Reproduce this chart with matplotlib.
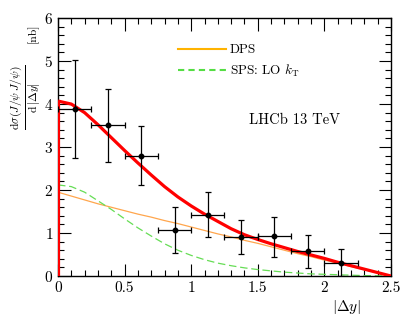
import numpy as np
import matplotlib
matplotlib.use('Agg')
import matplotlib.pyplot as plt
from matplotlib.ticker import MultipleLocator

plt.rcParams['font.family'] = 'serif'
plt.rcParams['font.serif'] = ['cmr10']
plt.rcParams['mathtext.fontset'] = 'cm'
plt.rcParams['axes.formatter.use_mathtext'] = True

# measured points (LHCb 13 TeV)
x_pts = [0.125, 0.375, 0.625, 0.875, 1.125, 1.375, 1.625, 1.875, 2.125]
y_pts = [3.88, 3.51, 2.79, 1.07, 1.43, 0.91, 0.93, 0.58, 0.30]
y_up = [5.02, 4.35, 3.49, 1.60, 1.95, 1.30, 1.37, 0.95, 0.63]
y_dn = [2.74, 2.65, 2.12, 0.53, 0.91, 0.51, 0.44, 0.19, 0.00]
x_halfwidth = [0.125] * 9

# model curves, every 0.1 in |dy|
x_grid = [0.0, 0.1, 0.2, 0.3, 0.4, 0.5, 0.6, 0.7, 0.8, 0.9, 1.0, 1.1, 1.2,
          1.3, 1.4, 1.5, 1.6, 1.7, 1.8, 1.9, 2.0, 2.1, 2.2, 2.3, 2.4, 2.5]
dps = [1.95, 1.86, 1.77, 1.68, 1.60, 1.52, 1.44, 1.37, 1.29, 1.22, 1.14, 1.06, 0.98,
       0.91, 0.83, 0.76, 0.68, 0.60, 0.52, 0.45, 0.37, 0.30, 0.22, 0.15, 0.07, 0.0]
sps = [2.12, 2.08, 1.95, 1.75, 1.55, 1.33, 1.12, 0.93, 0.75, 0.60, 0.48, 0.38, 0.30,
       0.24, 0.19, 0.15, 0.12, 0.09, 0.07, 0.05, 0.04, 0.03, 0.02, 0.01, 0.005, 0.0]
total = [4.07, 4.00, 3.80, 3.52, 3.22, 2.92, 2.63, 2.35, 2.08, 1.84, 1.63, 1.44, 1.27,
         1.10, 0.96, 0.85, 0.75, 0.66, 0.57, 0.49, 0.41, 0.32, 0.24, 0.16, 0.08, 0.0]

fig = plt.figure(figsize=(4.12, 3.29), dpi=100)
ax = fig.add_axes([0.1408, 0.161, 0.8082, 0.784])

ax.plot(x_grid, dps, color='#ffa64d', lw=0.9, zorder=2)
ax.plot(x_grid, sps, color='#66dd55', lw=0.9, dashes=(6, 3), zorder=2)
# legend handles
ax.plot([], [], color='#ffb300', lw=1.5, label='DPS')
ax.plot([], [], color='#55dd44', lw=1.5, dashes=(3, 2), label=r'SPS: LO $k_{\mathrm{T}}$')

ax.plot(x_grid, total, color='#ff0000', lw=2.3, zorder=3, solid_capstyle='butt')
ax.vlines(x_grid[0], 0, total[0], color='#ff0000', lw=2.3, zorder=3)

yerr = [np.array(y_pts) - np.array(y_dn), np.array(y_up) - np.array(y_pts)]
ax.errorbar(x_pts, y_pts, xerr=x_halfwidth, yerr=yerr, fmt='o', color='black',
            ms=3.2, elinewidth=0.9, capsize=2.5, capthick=0.9, zorder=4)

ax.set_xlim(0, 2.5)
ax.set_ylim(0, 6)
ax.xaxis.set_major_locator(MultipleLocator(0.5))
ax.xaxis.set_minor_locator(MultipleLocator(0.1))
ax.yaxis.set_major_locator(MultipleLocator(1))
ax.yaxis.set_minor_locator(MultipleLocator(0.2))
ax.tick_params(which='both', direction='in', top=True, right=True, labelsize=11, width=0.8)
ax.tick_params(which='major', length=9)
ax.tick_params(which='minor', length=4.5)
ax.xaxis.set_major_formatter(plt.FuncFormatter(lambda v, p: f'{v:g}'))
for s in ax.spines.values():
    s.set_linewidth(1.0)

leg = ax.legend(loc='upper left', bbox_to_anchor=(0.325, 0.945), frameon=False,
                fontsize=9.5, handlelength=3.6, handletextpad=0.3, labelspacing=0.45)

ax.text(0.575, 0.605, 'LHCb 13 TeV', transform=ax.transAxes, fontsize=10.5,
        va='center', ha='left')

fig.text(346 / 412, 1 - 307 / 329, r'$|\Delta y|$', fontsize=11, ha='center', va='center')
fig.text(26 / 412, 1 - 97 / 329,
         r'$\frac{\mathrm{d}\sigma(J/\psi\,J/\psi)}{\mathrm{d}\,|\Delta y|}$',
         rotation=90, fontsize=12, ha='center', va='center')
fig.text(33 / 412, 1 - 33 / 329, '[nb]', rotation=90, fontsize=8.5, ha='center', va='center')

fig.savefig('out.png', dpi=100)
